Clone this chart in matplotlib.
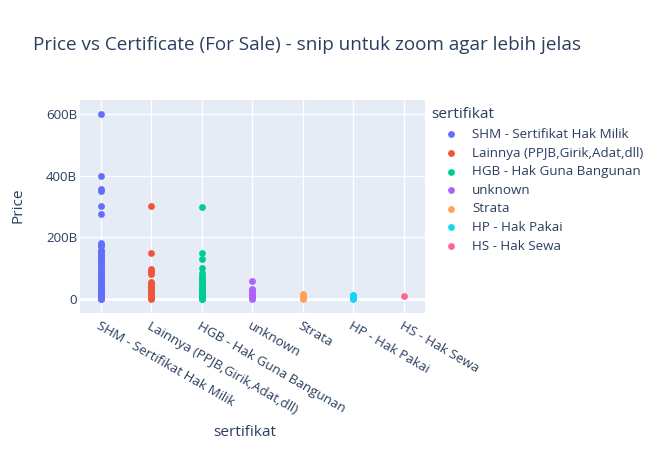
import matplotlib
matplotlib.use("Agg")
import matplotlib.pyplot as plt
from matplotlib.ticker import FixedLocator, FuncFormatter

categories = ["SHM - Sertifikat Hak Milik", "Lainnya (PPJB,Girik,Adat,dll)",
              "HGB - Hak Guna Bangunan", "unknown", "Strata", "HP - Hak Pakai", "HS - Hak Sewa"]
colors = ["#636EFA", "#EF553B", "#00CC96", "#AB63FA", "#FFA15A", "#19D3F3", "#FF6692"]

# Prices in billions
shm = [600, 400, 355, 350, 300, 275, 180, 175, 170, 160, 155, 150, 145, 140, 135, 130, 125,
       120, 115, 110, 105, 100, 95, 90, 85, 80, 75, 70, 65, 60, 55, 50, 45, 40, 38, 35, 32,
       30, 28, 25, 22, 20, 18, 15, 12, 10, 8, 6, 5, 4, 3, 2, 1.5, 1, 0.5]
lainnya = [300, 150, 97, 92, 88, 80, 55, 50, 47, 42, 38, 32, 28, 25, 20, 17, 14, 10, 7, 5,
           3, 1.5, 0.5]
hgb = [298, 150, 128, 100, 83, 75, 68, 62, 56, 50, 45, 40, 36, 32, 28, 24, 20, 17, 14, 11,
       8, 6, 4, 2, 1, 0.5]
unknown = [58, 32, 28, 24, 20, 16, 12, 9, 6, 4, 2, 1]
strata = [15, 12, 10, 8, 6, 4, 2, 1]
hp = [14, 11, 8, 6, 4, 2, 1]
hs = [8]
series = [shm, lainnya, hgb, unknown, strata, hp, hs]

yticks = [0, 200, 400, 600]

plt.rcParams["font.family"] = ["Open Sans", "DejaVu Sans"]
text_color = "#2a3f5f"
tick_fs = 9.6
title_fs = 13.6
axtitle_fs = 11.1

W, H = 661, 450
fig = plt.figure(figsize=(W / 100, H / 100), dpi=100)
left, right, top, bottom = 80, 425, 100, 312.7
ax = fig.add_axes([left / W, 1 - bottom / H, (right - left) / W, (bottom - top) / H])
ax.set_facecolor("#E5ECF6")

for i, (cat, vals, c) in enumerate(zip(categories, series, colors)):
    ax.scatter([cat] * len(vals), vals, s=24, color=c, linewidths=0, label=cat, zorder=3)

ax.set_xlim(-0.41, len(categories) - 1 + 0.42)
ax.set_ylim(-44.8, 644.9)
ax.yaxis.set_major_locator(FixedLocator(yticks))
ax.yaxis.set_major_formatter(FuncFormatter(lambda v, p: "0" if v == 0 else f"{int(v)}B"))
ax.grid(True, color="white", linewidth=1, zorder=0)
ax.axhline(0, color="white", linewidth=2, zorder=1)
ax.set_axisbelow(True)
for sp in ax.spines.values():
    sp.set_visible(False)
ax.tick_params(axis="both", length=0, colors=text_color, labelsize=tick_fs)
ax.tick_params(axis="y", pad=2)
ax.tick_params(axis="x", pad=5)
for lab in ax.get_xticklabels():
    lab.set_rotation(-30)
    lab.set_ha("left")
    lab.set_va("top")
    lab.set_rotation_mode("anchor")

fig.text(33 / W, 1 - 45 / H, "Price vs Certificate (For Sale) - snip untuk zoom agar lebih jelas",
         fontsize=title_fs, color=text_color, va="center", ha="left")
fig.text(18 / W, 1 - 205 / H, "Price", fontsize=axtitle_fs, color=text_color, rotation=90,
         va="center", ha="center")
fig.text(245 / W, 1 - 433 / H, "sertifikat", fontsize=axtitle_fs, color=text_color,
         va="center", ha="center")

leg = ax.legend(loc="upper left", bbox_to_anchor=(422 / W, 1 - 98 / H),
                bbox_transform=fig.transFigure, frameon=False, title="sertifikat",
                alignment="left", fontsize=tick_fs, title_fontsize=axtitle_fs, labelspacing=0.42,
                handletextpad=0.05, handlelength=3.0, borderpad=0.2)
for t in leg.get_texts():
    t.set_color(text_color)
leg.get_title().set_color(text_color)

fig.savefig("out.png", dpi=100, facecolor="white")
